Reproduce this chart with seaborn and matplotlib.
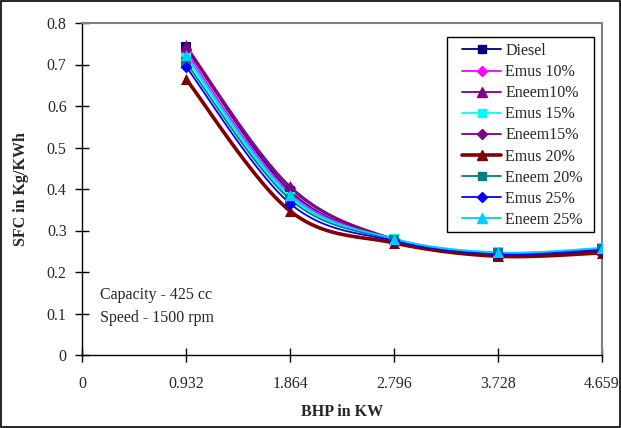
import numpy as np
import pandas as pd
import matplotlib
matplotlib.use("Agg")
import matplotlib.pyplot as plt
from matplotlib.lines import Line2D
from matplotlib.patches import Rectangle
import seaborn as sns

# Brake power (kW) at which SFC was measured
bhp = [0.932, 1.864, 2.796, 3.728, 4.659]
tick_labels = ["0", "0.932", "1.864", "2.796", "3.728", "4.659"]

# Specific fuel consumption (kg/kWh) per fuel blend
diesel   = [0.742, 0.395, 0.278, 0.238, 0.252]
emus10   = [0.730, 0.390, 0.280, 0.245, 0.255]
eneem10  = [0.746, 0.407, 0.280, 0.245, 0.252]
emus15   = [0.715, 0.380, 0.280, 0.247, 0.257]
eneem15  = [0.738, 0.402, 0.278, 0.242, 0.250]
emus20   = [0.665, 0.347, 0.270, 0.238, 0.246]
eneem20  = [0.705, 0.375, 0.278, 0.245, 0.255]
emus25   = [0.695, 0.365, 0.275, 0.243, 0.253]
eneem25  = [0.722, 0.385, 0.280, 0.247, 0.258]

names = ["Diesel", "Emus 10%", "Eneem10%", "Emus 15%", "Eneem15%",
         "Emus 20%", "Eneem 20%", "Emus 25%", "Eneem 25%"]
values = [diesel, emus10, eneem10, emus15, eneem15, emus20, eneem20, emus25, eneem25]

colors  = ["#000080", "#FF00FF", "#800080", "#00FFFF", "#800080",
           "#800000", "#008080", "#0000FF", "#00CCFF"]
markers = ["s", "D", "^", "s", "D", "^", "s", "D", "^"]
msizes  = [7, 6, 8, 7, 6, 8, 7, 6, 8]
widths  = [1.3, 1.3, 1.3, 1.3, 1.3, 2.6, 1.3, 1.3, 1.3]


def smooth(x, y, n=30):
    """Catmull-Rom curve through the points, like a spreadsheet's smoothed line."""
    x = np.asarray(x, float)
    y = np.asarray(y, float)
    px = np.concatenate([[x[0]], x, [x[-1]]])
    py = np.concatenate([[y[0]], y, [y[-1]]])
    xs, ys = [], []
    t = np.linspace(0, 1, n)
    for i in range(1, len(px) - 2):
        p0, p1, p2, p3 = (np.array([px[j], py[j]]) for j in range(i - 1, i + 3))
        c1 = p1 + (p2 - p0) / 6
        c2 = p2 - (p3 - p1) / 6
        seg = ((1 - t)[:, None] ** 3 * p1 + 3 * ((1 - t) ** 2 * t)[:, None] * c1
               + 3 * ((1 - t) * t ** 2)[:, None] * c2 + (t ** 3)[:, None] * p2)
        xs.append(seg[:, 0])
        ys.append(seg[:, 1])
    return np.concatenate(xs), np.concatenate(ys)


sns.set_style("white")
plt.rcParams["font.family"] = ["Liberation Serif", "DejaVu Serif"]

fig = plt.figure(figsize=(6.21, 4.28), dpi=100)
ax = fig.add_axes([82 / 621, 1 - 355 / 428, 520 / 621, 332 / 428])

handles = []
for name, v, c, m, ms, lw in zip(names, values, colors, markers, msizes, widths):
    sx, sy = smooth(bhp, v)
    curve = pd.DataFrame({"BHP": sx, "SFC": sy})
    sns.lineplot(data=curve, x="BHP", y="SFC", ax=ax, color=c, linewidth=lw,
                 sort=False, estimator=None)
    pts = pd.DataFrame({"BHP": bhp, "SFC": v})
    sns.scatterplot(data=pts, x="BHP", y="SFC", ax=ax, color=c, marker=m,
                    s=ms ** 2, linewidth=0, zorder=3)
    handles.append(Line2D([], [], color=c, marker=m, markersize=ms - 1, linewidth=lw,
                          label=name))

ax.set_xlim(0, 4.659)
ax.set_ylim(0, 0.8)
ax.set_xticks([0, 0.932, 1.864, 2.796, 3.728, 4.659])
ax.set_xticklabels(tick_labels)
ax.set_yticks(np.arange(0, 0.81, 0.1))
ax.set_yticklabels(["0", "0.1", "0.2", "0.3", "0.4", "0.5", "0.6", "0.7", "0.8"])
ax.tick_params(axis="both", direction="inout", length=10, width=1, color="black",
               labelsize=11.5, pad=6, left=True, bottom=True)
ax.tick_params(axis="x", pad=10)

for side in ("left", "bottom"):
    ax.spines[side].set_color("black")
    ax.spines[side].set_linewidth(1)
for side in ("top", "right"):
    ax.spines[side].set_visible(True)
    ax.spines[side].set_color("#808080")
    ax.spines[side].set_linewidth(1.5)

ax.set_xlabel("BHP in KW", fontsize=11.5, fontweight="bold", labelpad=9)
ax.set_ylabel("SFC in Kg/KWh", fontsize=11.5, fontweight="bold", labelpad=13)

ax.text(0.034, 0.18, "Capacity - 425 cc", transform=ax.transAxes, fontsize=11.5,
        va="center", ha="left")
ax.text(0.034, 0.11, "Speed - 1500 rpm", transform=ax.transAxes, fontsize=11.5,
        va="center", ha="left")

# Legend entries without their own frame; a separate box is drawn around them
leg = ax.legend(handles=handles, loc="upper left", bbox_to_anchor=(0.7185, 0.959),
                fontsize=11.5, frameon=False, handlelength=2.45,
                labelspacing=0.32, borderpad=0.4, handletextpad=0.25,
                borderaxespad=0)
leg.set_zorder(6)
ax.add_patch(Rectangle((0.702, 0.3705), 0.2827, 0.5873, transform=ax.transAxes,
                       facecolor="white", edgecolor="black", linewidth=1, zorder=5))

fig.patches.append(Rectangle((0.002, 0.002), 0.996, 0.995, transform=fig.transFigure,
                             fill=False, edgecolor="black", linewidth=1.2))

fig.savefig("out.png", dpi=100)
